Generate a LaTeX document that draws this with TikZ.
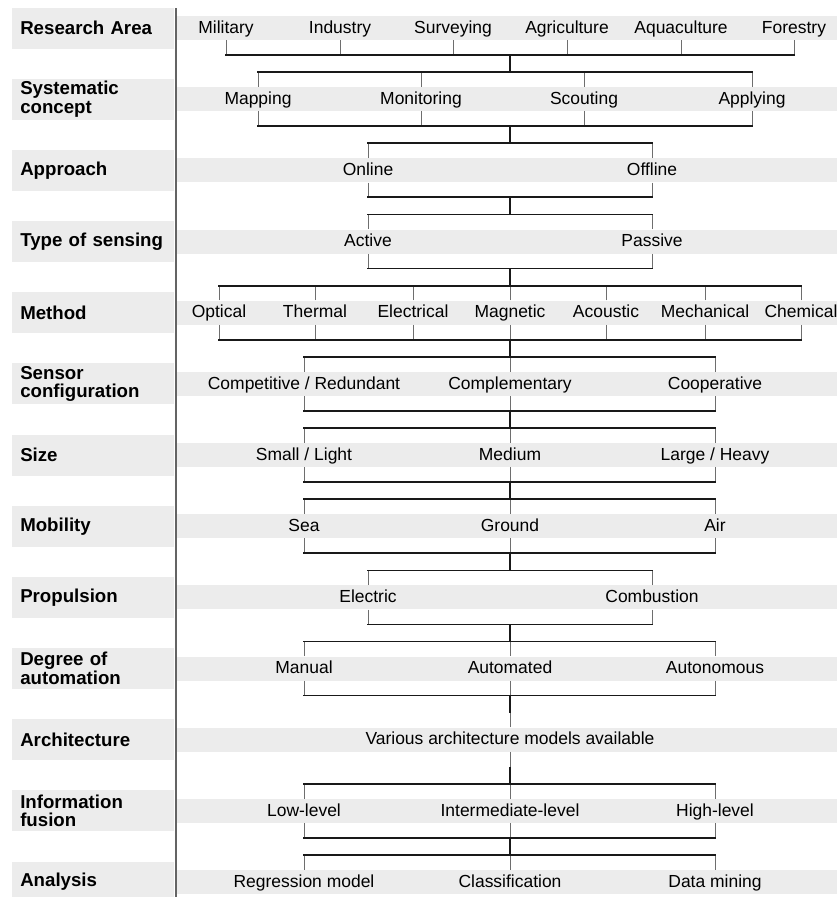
\documentclass[tikz,border=0pt]{standalone}
\usepackage{fontspec}
\setmainfont{Liberation Sans}
\definecolor{boxgray}{RGB}{236,236,236}
\definecolor{tickgray}{RGB}{110,110,110}
\definecolor{sepgray}{RGB}{100,100,100}
\definecolor{linedark}{RGB}{25,25,25}
\tikzset{
  lbl/.style={fill=boxgray, anchor=west, text width=109.5pt, inner xsep=6pt, inner ysep=0pt,
    minimum height=30.75pt, align=left, font=\fontsize{14}{13.8}\selectfont\bfseries},
  itm/.style={inner sep=0pt, minimum height=18pt, text height=9.4pt, text depth=1.5pt,
    font=\fontsize{13.1}{15}\selectfont},
  stripe/.style={fill=boxgray},
  tck/.style={draw=tickgray, line width=0.75pt},
  hline/.style={draw=linedark, line width=1.3pt, line cap=rect},
  stem/.style={draw=linedark, line width=1.5pt},
  sepline/.style={draw=sepgray, line width=1.5pt}
}
\begin{document}
\begin{tikzpicture}[x=0.75pt,y=-0.75pt]
\useasboundingbox (0,0) rectangle (837,897);
\foreach \r/\c/\n/\lab/\items in {
  0/28/6/{Research Area}/{226/Military,340/Industry,453/Surveying,567/Agriculture,681/Aquaculture,794/Forestry},
  1/99.2/4/{Systematic\\concept}/{258/Mapping,421/Monitoring,584/Scouting,752/Applying},
  2/170.3/2/{Approach}/{368/Online,652/Offline},
  3/241.5/2/{Type of sensing}/{368/Active,652/Passive},
  4/312.7/7/{Method}/{219/Optical,315/Thermal,413/Electrical,510/Magnetic,606/Acoustic,705/Mechanical,801/Chemical},
  5/383.9/3/{Sensor\\configuration}/{304/{Competitive / Redundant},510/Complementary,715/Cooperative},
  6/455.0/3/{Size}/{304/{Small / Light},510/Medium,715/{Large / Heavy}},
  7/526.2/3/{Mobility}/{304/Sea,510/Ground,715/Air},
  8/597.4/2/{Propulsion}/{368/Electric,652/Combustion},
  9/668.5/3/{Degree of\\automation}/{304/Manual,510/Automated,715/Autonomous},
  10/739.7/1/{Architecture}/{510/Various architecture models available},
  11/810.9/3/{Information\\fusion}/{304/Low-level,510/Intermediate-level,715/High-level},
  12/882.0/3/{Analysis}/{304/Regression model,510/Classification,715/Data mining}}
{
  \fill[stripe] (177,\c-12) rectangle (837,\c+12);
  \node[lbl] (L-\r) at (12,\c) {\lab};
  \foreach \x/\t [count=\k] in \items {
    \node[itm] (i-\r-\k) at (\x,\c) {\t};
  }
  \ifnum\r>0
    \coordinate (t-\r) at (510,\c-27);
    \foreach \k in {1,...,\n} {
      \draw[tck] (i-\r-\k.north) -- (i-\r-\k.north |- t-\r);
    }
    \draw[hline] (i-\r-1.north |- t-\r) -- (i-\r-\n.north |- t-\r);
  \fi
  \ifnum\r<12
    \coordinate (b-\r) at (510,\c+27);
    \foreach \k in {1,...,\n} {
      \draw[tck] (i-\r-\k.south) -- (i-\r-\k.south |- b-\r);
    }
    \draw[hline] (i-\r-1.south |- b-\r) -- (i-\r-\n.south |- b-\r);
  \fi
}
\foreach \r [evaluate=\r as \s using int(\r+1)] in {0,...,11} {
  \draw[stem] (b-\r) -- (t-\s);
}
\coordinate (septop) at (175.5,8);
\coordinate (sepbot) at (175.5,897);
\draw[sepline] (septop) -- (sepbot);
\end{tikzpicture}
\end{document}
